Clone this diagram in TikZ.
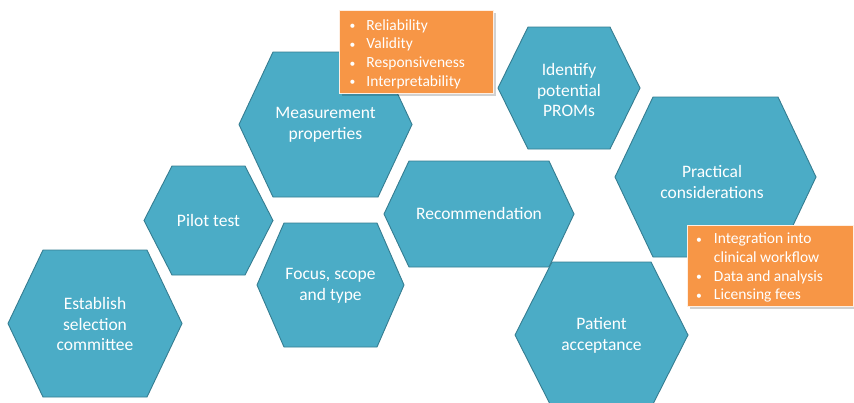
\documentclass[tikz,border=0pt]{standalone}
\usepackage{fontspec}
\setmainfont{Carlito}
\definecolor{hexfill}{HTML}{4BACC6}
\definecolor{hexline}{HTML}{357D91}
\definecolor{boxfill}{HTML}{F79646}
\newcommand\hexshape[5]{%
  \draw[hexagon] (#1,{(#3+#4)/2}) -- ({#1+#5},#3) -- ({#2-#5},#3) -- (#2,{(#3+#4)/2})
    -- ({#2-#5},#4) -- ({#1+#5},#4) -- cycle;}
\newcommand\smallbullet{\raisebox{0.5pt}{\scalebox{0.75}{\textbullet}}}
\tikzset{
  hexagon/.style={fill=hexfill, draw=hexline, line width=0.9pt, line join=miter},
  hextext/.style={text=white, align=center, font=\fontsize{17.5}{20.5}\selectfont, inner sep=0pt},
  bulletbox/.style={fill=boxfill, draw=white!85!boxfill, line width=0.6pt},
  boxshadow/.style={fill=black, opacity=0.18},
  bullettext/.style={text=white, anchor=west, inner sep=0pt, font=\fontsize{15.5}{18.6}\selectfont}
}
\begin{document}
\begin{tikzpicture}[x=1pt,y=-1pt]
\useasboundingbox[fill=white] (0,0) rectangle (854,402);
% hexagons
\hexshape{8}{182}{250}{397}{35}
\node[hextext] (establish) at (95,324) {Establish\\selection\\committee};
\hexshape{144}{273}{166}{275}{28}
\node[hextext] (pilot) at (208.5,220) {Pilot test};
\hexshape{257}{404}{223}{347}{27}
\node[hextext] (focus) at (330.5,286) {Focus, scope\\and type};
\hexshape{239}{412}{52}{197}{34}
\node[hextext] (measure) at (325.5,125) {Measurement\\properties};
\hexshape{384}{574}{161}{267}{25}
\node[hextext] (recommend) at (479,213) {Recommendation};
\hexshape{498}{640}{27}{149}{30}
\node[hextext] (identify) at (569,90) {Identify\\potential\\PROMs};
\hexshape{615}{816}{97}{257}{38}
\node[hextext] (practical) at (712,182) {Practical\\considerations};
\hexshape{515}{688}{262}{408}{37}
\node[hextext] (patient) at (601.5,335.5) {Patient\\acceptance};
% bullet boxes
\fill[boxshadow] (341.5,12.5) rectangle (495.5,95.5);
\fill[bulletbox] (339,10) rectangle (493,93);
\node[bullettext] (props) at (349.5,54.5) {\begin{tabular}{@{}l@{\hspace{11pt}}l@{}}
\smallbullet & Reliability\\
\smallbullet & Validity\\
\smallbullet & Responsiveness\\
\smallbullet & Interpretability
\end{tabular}};
\fill[boxshadow] (689.5,227.5) rectangle (856,308.5);
\fill[bulletbox] (687,225) rectangle (853,306);
\node[bullettext] (practicalitems) at (696,268) {\begin{tabular}{@{}l@{\hspace{12pt}}l@{}}
\smallbullet & Integration into\\
 & clinical workflow\\
\smallbullet & Data and analysis\\
\smallbullet & Licensing fees
\end{tabular}};
\end{tikzpicture}
\end{document}
